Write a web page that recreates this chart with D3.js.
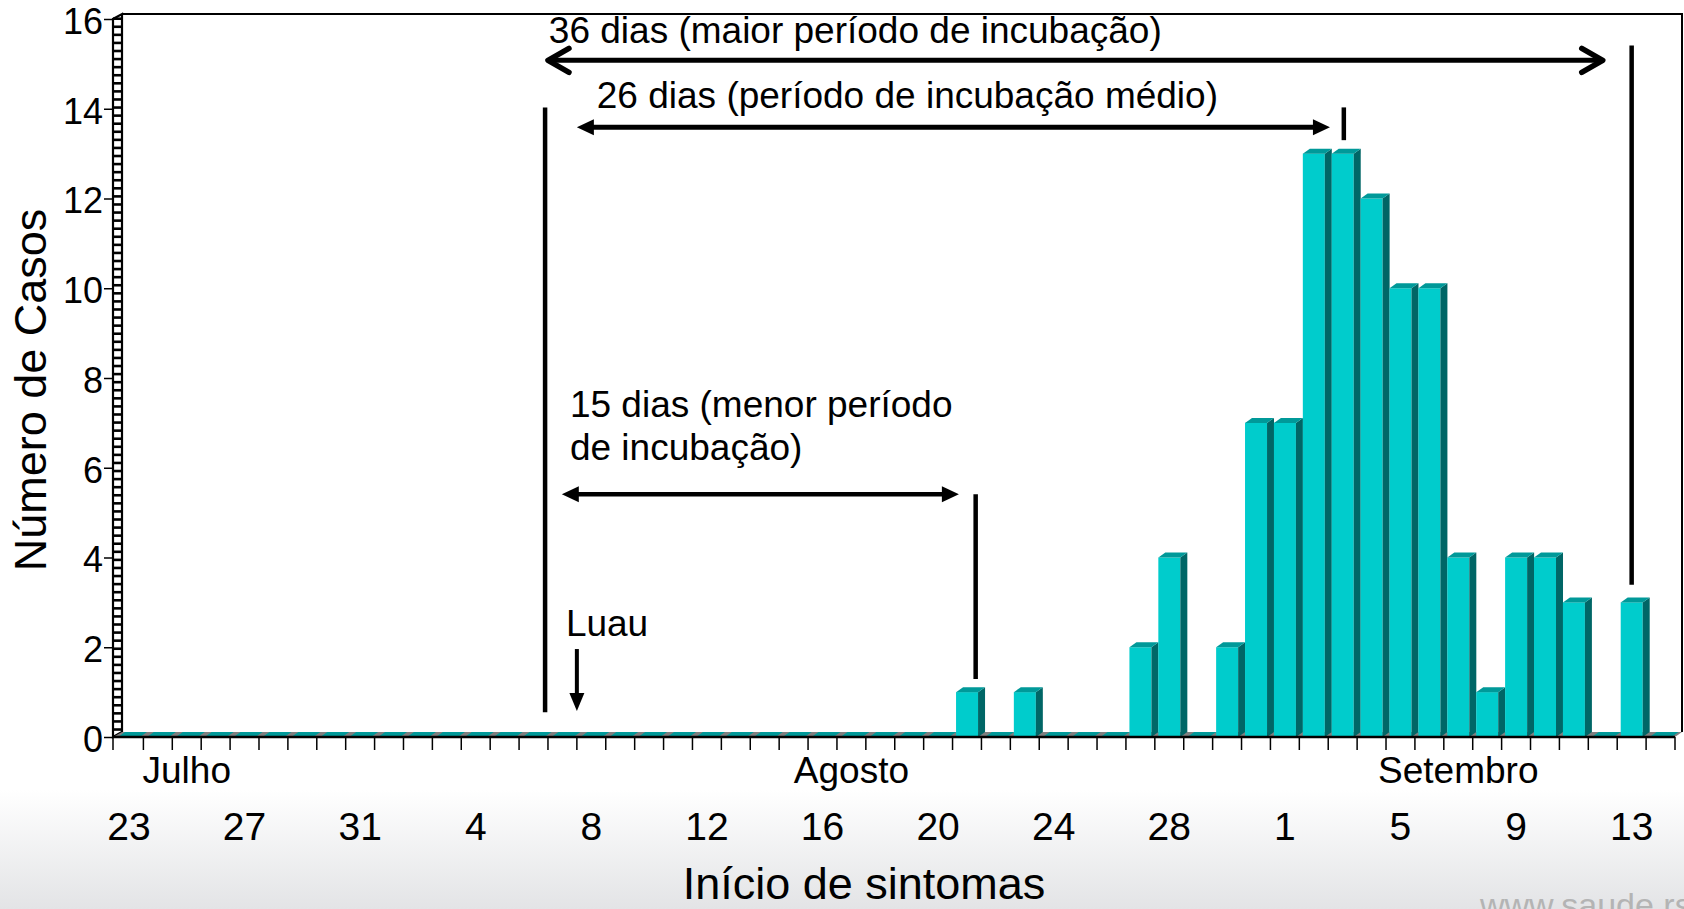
<!DOCTYPE html>
<html>
<head>
<meta charset="utf-8">
<script src="https://cdn.jsdelivr.net/npm/d3@7"></script>
<style>
  html, body { margin: 0; padding: 0; background: #fff; }
  svg { display: block; font-family: "Liberation Sans", Arial, sans-serif; }
</style>
</head>
<body>
<svg id="grafico" width="1684" height="909"></svg>
<script>
// ---- dados: casos por dia de início de sintomas
const dias = [
	"23/07", "24/07", "25/07", "26/07", "27/07", "28/07", "29/07", "30/07", "31/07",
	"01/08", "02/08", "03/08", "04/08", "05/08", "06/08", "07/08", "08/08", "09/08", "10/08",
	"11/08", "12/08", "13/08", "14/08", "15/08", "16/08", "17/08", "18/08", "19/08", "20/08",
	"21/08", "22/08", "23/08", "24/08", "25/08", "26/08", "27/08", "28/08", "29/08", "30/08", "31/08",
	"01/09", "02/09", "03/09", "04/09", "05/09", "06/09", "07/09", "08/09", "09/09", "10/09",
	"11/09", "12/09", "13/09", "14/09"
];
const casosJulho = [0, 0, 0, 0, 0, 0, 0, 0, 0];
const casosAgosto = [0, 0, 0, 0, 0, 0, 0, 0, 0, 0, 0, 0, 0, 0, 0, 0, 0, 0, 0, 0,
	1, 0, 1, 0, 0, 0, 2, 4, 0, 2, 7];
const casosSetembro = [7, 13, 13, 12, 10, 10, 4, 1, 4, 4, 3, 0, 3, 0];
const casos = casosJulho.concat(casosAgosto, casosSetembro);

const diasRotulados = ["23/07", "27/07", "31/07", "04/08", "08/08", "12/08", "16/08",
	"20/08", "24/08", "28/08", "01/09", "05/09", "09/09", "13/09"];
const ticksY = [0, 2, 4, 6, 8, 10, 12, 14, 16];
const meses = ["Julho", "Agosto", "Setembro"];
const mesesSob = ["25/07", "17/08", "07/09"];

// anotações (posição em dias desde 23/07 e em nº de casos)
const linhasVerticais = [
	{ dia: 14.9, de: 0.55, ate: 14.03 },
	{ dia: 29.8, de: 1.29, ate: 5.41 },
	{ dia: 42.54, de: 13.3, ate: 14.03 },
	{ dia: 52.5, de: 3.39, ate: 15.41 }
];
const setas = [
	{ de: 15.0, ate: 51.5, nivel: 15.08, ponta: "aberta" },
	{ de: 16.0, ate: 42.06, nivel: 13.59, ponta: "cheia" },
	{ de: 15.48, ate: 29.22, nivel: 5.41, ponta: "cheia" }
];
const setaLuau = { dia: 16.0, de: 1.96, ate: 0.58 };
const textos = [
	{ t: "36 dias (maior período de incubação)", dia: 15.03, nivel: 15.47 },
	{ t: "26 dias (período de incubação médio)", dia: 16.69, nivel: 14.02 },
	{ t: "15 dias (menor período", dia: 15.76, nivel: 7.13 },
	{ t: "de incubação)", dia: 15.76, nivel: 6.17 },
	{ t: "Luau", dia: 15.62, nivel: 2.25 }
];

//-----------------------------------
const svg = d3.select("#grafico");
const W = 1684, H = 909;
const esq = 114.5, dir = 1675, topo = 19, base = 737;
const dx = 7, dy = 5;          // profundidade 3D
const corFrente = "#00cccc", corLado = "#006666", corTopo = "#009999";

const x = d3.scaleBand().domain(dias).range([esq, dir]);
const xi = d3.scaleLinear().domain([0, dias.length]).range([esq, dir]);
const y = d3.scaleLinear().domain([0, 16]).range([base, topo]);

// fundo
const defs = svg.append("defs");
const grad = defs.append("linearGradient").attr("id", "fundo")
	.attr("x1", 0).attr("y1", 0).attr("x2", 0).attr("y2", 1);
grad.append("stop").attr("offset", 0).attr("stop-color", "#ffffff");
grad.append("stop").attr("offset", 1).attr("stop-color", "#e3e4e6");
svg.append("rect").attr("width", W).attr("height", H).attr("fill", "#fff");
svg.append("rect").attr("y", 790).attr("width", W).attr("height", H - 790).attr("fill", "url(#fundo)");

const x0 = esq - 1.5;
const paredeL = 9;            // largura da parede lateral

// parede do fundo (bordas)
svg.append("path")
	.attr("d", `M${x0 + paredeL},${y(16) - dy}H${dir + dx}V${base - dy}`)
	.attr("fill", "none").attr("stroke", "#000").attr("stroke-width", 2);

// parede lateral com escada
svg.append("path")
	.attr("d", `M${x0},${base}V${y(16)}L${x0 + paredeL},${y(16) - dy}V${base - dy}Z`)
	.attr("fill", "#fff").attr("stroke", "#000").attr("stroke-width", 2.2);
svg.append("g").selectAll("line")
	.data(d3.range(0.1, 16, 0.18))
	.join("line")
	.attr("x1", x0).attr("x2", x0 + paredeL)
	.attr("y1", d => y(d) - 3).attr("y2", d => y(d) - 3)
	.attr("stroke", "#000").attr("stroke-width", 2.6);

// eixo Y
const eixoY = svg.append("g").attr("transform", `translate(${x0},0)`)
	.call(d3.axisLeft(y).tickValues(ticksY).tickSize(9).tickPadding(1));
eixoY.select(".domain").remove();
eixoY.selectAll("line").attr("stroke", "#000").attr("stroke-width", 1.5);
eixoY.selectAll("text").attr("font-size", 36).attr("fill", "#000").attr("dy", "0.4em")
	.attr("font-family", "'Liberation Sans', Arial, sans-serif");

// piso
svg.append("path")
	.attr("d", `M${x0},${base}H${dir}L${dir + dx},${base - dy}H${x0 + paredeL}Z`)
	.attr("fill", "#7f7f7f");

// barras 3D
const larg = 22, desloc = 3.5;
const barras = svg.append("g").selectAll("g")
	.data(dias.map((d, i) => ({ dia: d, v: casos[i] })))
	.join("g");

barras.filter(d => d.v > 0).append("rect")
	.attr("x", d => x(d.dia) + desloc)
	.attr("y", d => y(d.v))
	.attr("width", larg)
	.attr("height", d => base - y(d.v))
	.attr("fill", corFrente);

barras.filter(d => d.v > 0).append("path")
	.attr("d", d => {
		const bx = x(d.dia) + desloc + larg, ty = y(d.v);
		return `M${bx},${ty}L${bx + dx},${ty - dy}V${base - dy}L${bx},${base}Z`;
	})
	.attr("fill", corLado);

barras.append("path")
	.attr("d", d => {
		const bx = x(d.dia) + desloc, ty = y(d.v);
		return `M${bx},${ty}L${bx + dx},${ty - dy}H${bx + larg + dx}L${bx + larg},${ty}Z`;
	})
	.attr("fill", corTopo);

// linha frontal do piso e marcas
svg.append("line")
	.attr("x1", x0).attr("x2", dir).attr("y1", base).attr("y2", base)
	.attr("stroke", "#000").attr("stroke-width", 2.5);
svg.append("g").selectAll("line")
	.data(d3.range(dias.length + 1))
	.join("line")
	.attr("x1", i => i === 0 ? x0 : xi(i)).attr("x2", i => i === 0 ? x0 : xi(i))
	.attr("y1", base).attr("y2", base + 13)
	.attr("stroke", "#000").attr("stroke-width", 1.5);

// eixo X: dias
const eixoX = svg.append("g").attr("transform", "translate(0,840)")
	.call(d3.axisBottom(x).tickValues(diasRotulados).tickSize(0)
		.tickFormat(d => +d.split("/")[0]));
eixoX.select(".domain").remove();
eixoX.selectAll("text").attr("y", 0).attr("dy", null)
	.attr("font-size", 39).attr("fill", "#000")
	.attr("font-family", "'Liberation Sans', Arial, sans-serif");

// meses
svg.append("g").selectAll("text")
	.data(meses)
	.join("text")
	.attr("x", (d, i) => x(mesesSob[i]) + x.bandwidth() / 2)
	.attr("y", 783)
	.attr("text-anchor", "middle")
	.attr("font-size", 37)
	.text(d => d);

// títulos
svg.append("text")
	.attr("x", 864).attr("y", 899)
	.attr("text-anchor", "middle").attr("font-size", 45)
	.text("Início de sintomas");
svg.append("text")
	.attr("transform", "translate(46,390) rotate(-90)")
	.attr("text-anchor", "middle").attr("font-size", 45)
	.text("Número de Casos");

// marca d'água (cortada na borda, como no original)
svg.append("text")
	.attr("x", 1480).attr("y", 917)
	.attr("font-size", 34).attr("fill", "#b4b4b4")
	.text("www.saude.rs.gov.br");

//-----------------------------------
// anotações
const anot = svg.append("g").attr("stroke", "#000").attr("fill", "none");

anot.selectAll("line.vert")
	.data(linhasVerticais)
	.join("line")
	.attr("class", "vert")
	.attr("x1", d => xi(d.dia)).attr("x2", d => xi(d.dia))
	.attr("y1", d => y(d.ate)).attr("y2", d => y(d.de))
	.attr("stroke-width", 4.5);

function triangulo(tx, ty, dirx, diry, L, h) {
	// ponta em (tx,ty), apontando na direção (dirx,diry)
	const bx = tx - dirx * L, by = ty - diry * L;
	const px = -diry * h, py = dirx * h;
	return `M${tx},${ty}L${bx + px},${by + py}L${bx - px},${by - py}Z`;
}

setas.forEach(s => {
	const xa = xi(s.de), xb = xi(s.ate), yy = y(s.nivel);
	if (s.ponta === "aberta") {
		anot.append("line").attr("x1", xa + 2).attr("x2", xb - 2).attr("y1", yy).attr("y2", yy)
			.attr("stroke-width", 5);
		[[xa, 1], [xb, -1]].forEach(([tx, sgn]) => {
			anot.append("path")
				.attr("d", `M${tx + sgn * 21},${yy - 12}L${tx},${yy}L${tx + sgn * 21},${yy + 12}`)
				.attr("stroke-width", 5.5).attr("stroke-linecap", "round").attr("stroke-linejoin", "round");
		});
	} else {
		anot.append("line").attr("x1", xa + 12).attr("x2", xb - 12).attr("y1", yy).attr("y2", yy)
			.attr("stroke-width", s.nivel > 10 ? 5 : 4.5);
		anot.append("path").attr("d", triangulo(xa, yy, -1, 0, 17, 8)).attr("fill", "#000").attr("stroke", "none");
		anot.append("path").attr("d", triangulo(xb, yy, 1, 0, 17, 8)).attr("fill", "#000").attr("stroke", "none");
	}
});

anot.append("line")
	.attr("x1", xi(setaLuau.dia)).attr("x2", xi(setaLuau.dia))
	.attr("y1", y(setaLuau.de)).attr("y2", y(setaLuau.ate) - 12)
	.attr("stroke-width", 4);
anot.append("path")
	.attr("d", triangulo(xi(setaLuau.dia), y(setaLuau.ate), 0, 1, 18, 7.5))
	.attr("fill", "#000").attr("stroke", "none");

svg.append("g").selectAll("text")
	.data(textos)
	.join("text")
	.attr("x", d => xi(d.dia))
	.attr("y", d => y(d.nivel))
	.attr("font-size", 37)
	.text(d => d.t);
</script>
</body>
</html>
